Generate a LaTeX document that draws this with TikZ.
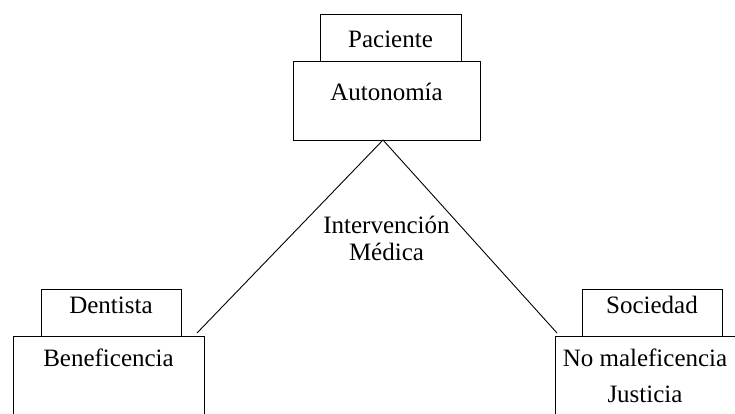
\documentclass[tikz,border=0pt]{standalone}
\usepackage{fontspec}
\setmainfont{Liberation Serif}
\begin{document}
\begin{tikzpicture}[x=1pt,y=-1pt,
  box/.style={draw, line width=0.9pt, inner sep=0pt},
  lbl/.style={anchor=base, inner sep=0pt, font=\fontsize{25}{30}\selectfont},
  conn/.style={line width=0.9pt}]
\clip (0,0) rectangle (735,413);
% boxes
\node[box, minimum width=141pt, minimum height=47pt] (pacbox) at (390.5,37.5) {};
\node[box, minimum width=187pt, minimum height=79pt] (autbox) at (386.5,100.5) {};
\node[box, minimum width=140pt, minimum height=47pt] (denbox) at (111,312.5) {};
\node[box, minimum width=191pt, minimum height=120pt] (benbox) at (108.5,396) {};
\node[box, minimum width=140pt, minimum height=47pt] (socbox) at (652,312.5) {};
\node[box, minimum width=220pt, minimum height=120pt] (nmbox) at (665,396) {};
% labels
\node[lbl] (pac) at (390.5,47) {Paciente};
\node[lbl] (aut) at (386.5,100) {Autonomía};
\node[lbl] (den) at (111,313) {Dentista};
\node[lbl] (ben) at (108.5,366) {Beneficencia};
\node[lbl] (soc) at (652,313) {Sociedad};
\node[lbl] (nm) at (645,366) {No maleficencia};
\node[lbl] (jus) at (645,402) {Justicia};
\node[lbl] (int) at (386.5,233) {Intervención};
\node[lbl] (med) at (386.5,260) {Médica};
% connectors
\coordinate (apex) at (383,140);
\coordinate (lend) at (197,333);
\coordinate (rend) at (557,333);
\draw[conn] (lend) -- (apex) -- (rend);
\end{tikzpicture}
\end{document}
